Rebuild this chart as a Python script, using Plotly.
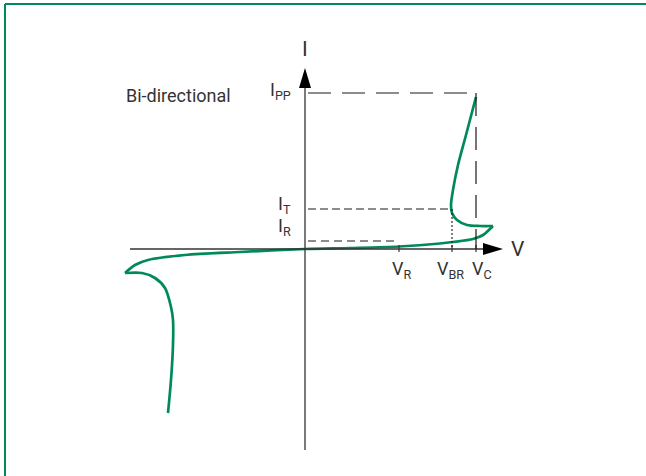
import plotly.graph_objects as go

# characteristic levels (arbitrary units, origin at V=0, I=0)
V_R = 94
V_BR = 147
V_C = 171
I_R = 8
I_T = 40
I_PP = 156

# curve of the bi-directional device, three pieces split at the sharp tips
v_low = [-137, -134, -132, -132, -134, -140, -150, -163, -180]
i_low = [-164, -131, -96, -71, -58, -39, -29, -24, -24]

v_mid = [-180, -170, -157, -120, -65, 0, 45, 94, 135, 148, 168, 178, 188]
i_mid = [-24, -16, -11, -6, -3, 0, 1, 2.5, 5.5, 7, 10, 14, 23]

v_up = [188, 175, 162, 152, 147, 146, 148, 153, 161, 171]
i_up = [23, 23, 24, 29, 36, 44, 59, 84, 114, 152]

GREEN = "#008a57"
INK = "#333333"
DASH = "#1a1a1a"
FONT = "Roboto, Arial, sans-serif"

fig = go.Figure()
for vv, ii in [(v_low, i_low), (v_mid, i_mid), (v_up, i_up)]:
    fig.add_trace(go.Scatter(x=vv, y=ii, mode="lines",
                             line=dict(color=GREEN, width=2.7, shape="spline", smoothing=0.8),
                             hoverinfo="skip", showlegend=False))

shapes = []
# axes
shapes.append(dict(type="line", x0=-175, y0=0, x1=180, y1=0, line=dict(color=INK, width=1.3)))
shapes.append(dict(type="line", x0=0, y0=-201, x1=0, y1=163, line=dict(color=INK, width=1.3)))
# arrow heads
shapes.append(dict(type="path", path="M 178,-6 L 198,0 L 178,6 Z", fillcolor="black", line=dict(width=0)))
shapes.append(dict(type="path", path="M -6,161 L 0,181 L 6,161 Z", fillcolor="black", line=dict(width=0)))
# ticks on V axis
for v in [V_R, V_BR, V_C]:
    shapes.append(dict(type="line", x0=v, y0=-3, x1=v, y1=4, line=dict(color=INK, width=1.2)))
# guide lines
shapes.append(dict(type="line", x0=3, y0=I_PP, x1=V_C, y1=I_PP, line=dict(color=DASH, width=1.2, dash="23px,11px")))
shapes.append(dict(type="line", x0=V_C, y0=I_PP, x1=V_C, y1=0, line=dict(color=DASH, width=1.2, dash="23px,11px")))
shapes.append(dict(type="line", x0=3, y0=I_T, x1=V_BR, y1=I_T, line=dict(color=DASH, width=1.1, dash="8px,4px")))
shapes.append(dict(type="line", x0=3, y0=I_R, x1=V_R, y1=I_R, line=dict(color=DASH, width=1.1, dash="8px,5px")))
shapes.append(dict(type="line", x0=V_BR, y0=I_T, x1=V_BR, y1=0, line=dict(color=DASH, width=1.1, dash="2px,2px")))
# frame (top and left only)
shapes.append(dict(type="line", xref="paper", yref="paper", x0=5/646, y0=1-4/476, x1=1, y1=1-4/476,
                   line=dict(color=GREEN, width=2)))
shapes.append(dict(type="line", xref="paper", yref="paper", x0=5/646, y0=1-4/476, x1=5/646, y1=0,
                   line=dict(color=GREEN, width=2)))

annotations = []
for txt, y in [("I<sub>PP</sub>", I_PP + 2), ("I<sub>T</sub>", I_T + 4), ("I<sub>R</sub>", I_R + 14)]:
    annotations.append(dict(x=-12, y=y, text=txt, showarrow=False, xanchor="right", yanchor="middle",
                            font=dict(family=FONT, size=18, color=INK)))
for txt, v, dx in [("V<sub>R</sub>", V_R, -9), ("V<sub>BR</sub>", V_BR, -17), ("V<sub>C</sub>", V_C, -6)]:
    annotations.append(dict(x=v + dx, y=-7, text=txt, showarrow=False, xanchor="left", yanchor="top",
                            font=dict(family=FONT, size=18, color=INK)))
annotations.append(dict(x=213, y=0, text="V", showarrow=False, xanchor="center", yanchor="middle",
                        font=dict(family=FONT, size=21, color=INK)))
annotations.append(dict(x=0, y=200, text="I", showarrow=False, xanchor="center", yanchor="middle",
                        font=dict(family=FONT, size=21, color=INK)))
annotations.append(dict(x=-181, y=154, text="Bi-directional", showarrow=False, xanchor="left", yanchor="middle",
                        font=dict(family=FONT, size=18, color=INK)))

fig.update_layout(width=646, height=476, margin=dict(l=0, r=0, t=0, b=0),
                  plot_bgcolor="white", paper_bgcolor="white",
                  shapes=shapes, annotations=annotations, showlegend=False)
fig.update_xaxes(range=[-305, 341], visible=False, fixedrange=True)
fig.update_yaxes(range=[-227, 249], visible=False, fixedrange=True)

fig.write_html("out.html", config={"displayModeBar": False},
               post_script="document.body.style.margin='0px';")
